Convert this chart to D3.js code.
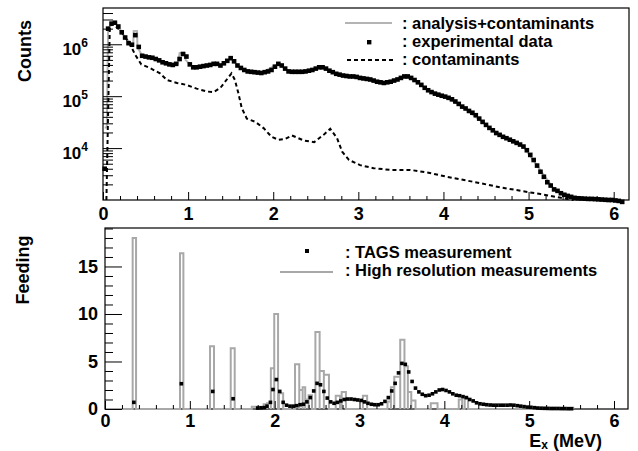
<!DOCTYPE html>
<html>
<head>
<meta charset="utf-8">
<script src="https://cdn.jsdelivr.net/npm/d3@7"></script>
<style>
body { margin: 0; background: #fff; }
text { font-family: "Liberation Sans", Arial, Helvetica, sans-serif; font-weight: bold; fill: #000; }
</style>
</head>
<body>
<svg id="chart" width="638" height="451"></svg>
<script>
// ---------- data ----------
// top panel: bin centres (MeV) and experimental counts
var binE = [0.02,0.06,0.10,0.14,0.18,0.22,0.26,0.30,0.34,0.38,
  0.42,0.46,0.50,0.54,0.58,0.62,0.66,0.70,0.74,0.78,
  0.82,0.86,0.90,0.94,0.98,1.02,1.06,1.10,1.14,1.18,
  1.22,1.26,1.30,1.34,1.38,1.42,1.46,1.50,1.54,1.58,
  1.62,1.66,1.70,1.74,1.78,1.82,1.86,1.90,1.94,1.98,
  2.02,2.06,2.10,2.14,2.18,2.22,2.26,2.30,2.34,2.38,
  2.42,2.46,2.50,2.54,2.58,2.62,2.66,2.70,2.74,2.78,
  2.82,2.86,2.90,2.94,2.98,3.02,3.06,3.10,3.14,3.18,
  3.22,3.26,3.30,3.34,3.38,3.42,3.46,3.50,3.54,3.58,
  3.62,3.66,3.70,3.74,3.78,3.82,3.86,3.90,3.94,3.98,
  4.02,4.06,4.10,4.14,4.18,4.22,4.26,4.30,4.34,4.38,
  4.42,4.46,4.50,4.54,4.58,4.62,4.66,4.70,4.74,4.78,
  4.82,4.86,4.90,4.94,4.98,5.02,5.06,5.10,5.14,5.18,
  5.22,5.26,5.30,5.34,5.38,5.42,5.46,5.50,5.54,5.58,
  5.62,5.66,5.70,5.74,5.78,5.82,5.86,5.90,5.94,5.98,
  6.02,6.06,6.10];
var expCounts = [4.0e3,2.0e6,2.5e6,2.6e6,2.2e6,1.7e6,1.35e6,1.05e6,9.8e5,1.5e6,
  8.9e5,6.0e5,5.8e5,5.6e5,5.5e5,5.2e5,4.9e5,4.5e5,4.3e5,4.1e5,
  4.0e5,4.2e5,5.2e5,6.5e5,5.8e5,4.1e5,3.6e5,3.6e5,3.7e5,3.8e5,
  3.9e5,4.0e5,4.2e5,4.2e5,3.9e5,4.3e5,4.8e5,5.4e5,4.7e5,3.9e5,
  3.5e5,3.2e5,3.0e5,2.95e5,2.9e5,2.85e5,2.8e5,2.9e5,3.0e5,3.2e5,
  3.7e5,4.2e5,3.9e5,3.4e5,3.0e5,2.95e5,2.95e5,2.95e5,2.95e5,3.0e5,
  3.1e5,3.2e5,3.4e5,3.6e5,3.6e5,3.4e5,3.1e5,2.9e5,2.7e5,2.6e5,
  2.5e5,2.45e5,2.4e5,2.4e5,2.35e5,2.25e5,2.2e5,2.15e5,2.1e5,2.0e5,
  1.9e5,1.85e5,1.8e5,1.85e5,1.9e5,2.0e5,2.1e5,2.25e5,2.4e5,2.4e5,
  2.25e5,2.05e5,1.85e5,1.65e5,1.45e5,1.3e5,1.2e5,1.12e5,1.07e5,1.02e5,
  9.8e4,9.3e4,8.7e4,7.9e4,7.1e4,6.3e4,5.8e4,5.2e4,4.8e4,4.3e4,
  3.7e4,3.2e4,2.8e4,2.45e4,2.2e4,1.95e4,1.8e4,1.65e4,1.55e4,1.45e4,
  1.35e4,1.26e4,1.17e4,1.07e4,9.1e3,7.4e3,5.9e3,4.6e3,3.5e3,2.8e3,
  2.2e3,1.9e3,1.6e3,1.5e3,1.35e3,1.26e3,1.2e3,1.15e3,1.1e3,1.08e3,
  1.07e3,1.06e3,1.05e3,1.05e3,1.04e3,1.03e3,1.02e3,1.01e3,1.0e3,1.0e3,
  980,960,920];

// analysis+contaminants (grey line)
var fitE = [0.02,0.045,0.06,0.10,0.14,0.18,0.26,0.34,0.355,0.36,0.40,0.405,0.46,0.62,0.74,0.82,0.86,0.88,0.90,
  0.96,0.97,1.02,1.06,1.22,1.34,1.38,1.50,1.58,1.66,1.86,2.06,2.18,2.38,2.56,2.70,2.82,3.30,3.56,
  3.70,3.82,4.02,4.22,4.50,4.66,4.94,5.10,5.30,5.50,6.10];
var fitCounts = [2.5e4,2.5e4,2.0e6,2.5e6,2.6e6,2.2e6,1.35e6,9.8e5,9.8e5,1.8e6,1.8e6,8.9e5,6.0e5,5.2e5,4.3e5,4.0e5,4.2e5,4.2e5,6.8e5,
  6.8e5,5.0e5,4.1e5,3.6e5,3.9e5,4.2e5,3.9e5,5.4e5,3.9e5,3.2e5,2.8e5,4.2e5,3.0e5,3.0e5,3.6e5,2.9e5,2.5e5,1.8e5,2.4e5,
  1.85e5,1.3e5,9.8e4,6.3e4,2.8e4,1.8e4,1.07e4,4.6e3,1.6e3,1.15e3,920];

// contaminants (dashed line)
var contE = [0.04,0.08,0.12,0.22,0.32,0.38,0.45,0.55,0.67,0.75,0.87,0.98,1.10,1.22,1.30,1.38,1.45,1.51,1.55,
  1.59,1.63,1.69,1.79,1.89,1.98,2.06,2.14,2.22,2.36,2.48,2.60,2.67,2.75,2.81,2.89,3.02,3.18,3.38,
  3.61,3.81,4.04,4.20,4.44,4.67,4.91,5.14,5.38,5.53];
var contCounts = [1.0e3,2.2e6,2.5e6,1.7e6,9.8e5,6.2e5,4.1e5,3.5e5,2.75e5,2.05e5,1.8e5,1.65e5,1.4e5,1.23e5,1.2e5,1.45e5,2.05e5,2.75e5,2.05e5,
  1.15e5,5.9e4,3.7e4,3.2e4,2.4e4,1.65e4,1.45e4,1.5e4,1.75e4,1.4e4,1.3e4,1.85e4,2.35e4,1.55e4,8.5e3,5.9e3,4.7e3,4.1e3,3.8e3,
  3.8e3,3.4e3,2.8e3,2.5e3,2.1e3,1.75e3,1.5e3,1.3e3,1.1e3,1.0e3];

// bottom panel: high resolution feeding histogram (bin low edge, high edge, value)
var hrLo =   [0.326,0.884,1.238,1.482,1.73,1.87,1.91,1.955,1.995,2.05,2.24,2.29,2.33,2.36,2.40,2.48,2.53,2.58,2.72,2.79,3.04,3.33,3.37,3.41,3.48,3.53,3.57,3.61,3.84,4.17,4.24,5.09];
var hrHi =   [0.366,0.924,1.285,1.529,1.87,1.91,1.955,1.995,2.04,2.10,2.29,2.33,2.36,2.40,2.44,2.53,2.58,2.64,2.77,2.84,3.09,3.37,3.41,3.48,3.53,3.57,3.61,3.66,3.92,4.21,4.28,5.52];
var hrFeed = [18.0,16.4,6.6,6.4,0.25,0.5,0.6,4.3,10.0,1.65,4.7,2.0,2.3,1.0,1.45,8.1,4.0,3.6,1.4,1.8,1.4,0.8,2.3,3.4,7.3,4.5,1.8,0.9,0.6,1.0,1.1,0.12];

// bottom panel: TAGS feeding
var tagsE = [0.34,0.90,1.27,1.51,1.80,1.84,1.88,1.91,1.95,1.98,
  2.02,2.06,2.10,2.14,2.18,2.22,2.26,2.30,2.34,2.38,
  2.42,2.46,2.50,2.54,2.58,2.62,2.66,2.70,2.74,2.78,
  2.82,2.86,2.90,2.94,2.98,3.02,3.06,3.10,3.14,3.18,
  3.22,3.26,3.30,3.34,3.38,3.42,3.46,3.50,3.54,3.58,
  3.62,3.66,3.70,3.74,3.78,3.82,3.86,3.90,3.94,3.98,
  4.02,4.06,4.10,4.14,4.18,4.22,4.26,4.30,4.34,4.38,
  4.42,4.46,4.50,4.54,4.58,4.62,4.66,4.70,4.74,4.78,
  4.82,4.86,4.90,4.94,4.98,5.02,5.06,5.10,5.14,5.18,
  5.22,5.26,5.30,5.34,5.38,5.42,5.46,5.50];
var tagsFeed = [0.7,2.66,1.85,1.08,0.1,0.12,0.15,0.3,0.7,2.05,
  3.1,1.85,0.7,0.4,0.3,0.3,0.35,0.45,0.5,0.75,
  1.2,1.9,2.7,2.55,1.85,1.15,0.75,0.6,0.7,0.85,
  1.0,1.05,1.05,1.0,0.95,0.9,0.75,0.6,0.5,0.45,
  0.45,0.55,0.8,1.2,1.9,2.7,3.8,4.8,4.7,3.9,
  2.9,2.2,1.8,1.55,1.4,1.45,1.6,1.8,2.0,2.05,
  1.95,1.8,1.6,1.45,1.4,1.3,1.2,1.0,0.85,0.65,
  0.55,0.5,0.45,0.42,0.4,0.4,0.4,0.4,0.4,0.42,
  0.4,0.35,0.3,0.25,0.2,0.18,0.14,0.1,0.08,0.07,
  0.06,0.05,0.05,0.05,0.04,0.04,0.03,0.03];

var xTicks = [0,1,2,3,4,5,6];
var countTicks = [1e4,1e5,1e6];
var feedTicks = [0,5,10,15];

// ---------- scales ----------
var svg = d3.select("#chart");

var xTop = d3.scaleLinear().domain([0, 6.18]).range([103, 629]);
var yTop = d3.scaleLog().domain([1000, 5e6]).range([200, 8]);
var xBot = d3.scaleLinear().domain([0, 6.165]).range([105, 628]);
var yBot = d3.scaleLinear().domain([0, 19.05]).range([409, 228]);

// minor tick positions
var xMinor = d3.range(0, 6.19, 0.2).filter(function(v) { return Math.abs(v - Math.round(v)) > 0.01; });
var countMinor = [];
[1e3, 1e4, 1e5, 1e6].forEach(function(dec) {
  for (var m = 2; m <= 9; m++) { if (m * dec < 5e6) countMinor.push(m * dec); }
});
var feedMinor = d3.range(1, 20).filter(function(v) { return v % 5 != 0; });

function frame(x, y) {
  svg.append("rect")
    .attr("x", x.range()[0]).attr("y", y.range()[1])
    .attr("width", x.range()[1] - x.range()[0])
    .attr("height", y.range()[0] - y.range()[1])
    .attr("fill", "none").attr("stroke", "#000").attr("stroke-width", 1.2);
}

//**********************
// top panel
//**********************
frame(xTop, yTop);

var fitData = fitE.map(function(e, i) { return [e, fitCounts[i]]; });
var contData = contE.map(function(e, i) { return [e, contCounts[i]]; });
var expData = binE.map(function(e, i) { return [e, expCounts[i]]; });

svg.append("path")
  .datum(fitData)
  .attr("fill", "none")
  .attr("stroke", "#b4b4b4")
  .attr("stroke-width", 2)
  .attr("d", d3.line().x(function(d) { return xTop(d[0]); }).y(function(d) { return yTop(d[1]); }));

svg.append("path")
  .datum(contData)
  .attr("fill", "none")
  .attr("stroke", "#000")
  .attr("stroke-width", 2)
  .attr("stroke-dasharray", "4,3")
  .attr("d", d3.line().x(function(d) { return xTop(d[0]); }).y(function(d) { return yTop(d[1]); }));

svg.selectAll(".exp")
  .data(expData)
  .enter().append("rect")
  .attr("class", "exp")
  .attr("x", function(d) { return xTop(d[0]) - 2.3; })
  .attr("y", function(d) { return yTop(d[1]) - 2.3; })
  .attr("width", 4.6).attr("height", 4.6)
  .attr("fill", "#000");

// x axis (top panel)
var gx = svg.append("g").attr("transform", "translate(0," + yTop.range()[0] + ")")
  .call(d3.axisBottom(xTop).tickValues(xTicks).tickSize(-8).tickSizeOuter(0).tickPadding(7).tickFormat(d3.format("d")));
gx.select(".domain").remove();
gx.selectAll("text").style("font-size", "18px").style("font-family", "Liberation Sans, Arial, sans-serif").style("font-weight", "bold");
var gxm = svg.append("g").attr("transform", "translate(0," + yTop.range()[0] + ")")
  .call(d3.axisBottom(xTop).tickValues(xMinor).tickSize(-4).tickSizeOuter(0).tickFormat(""));
gxm.select(".domain").remove();

// y axis (top panel, log)
var gy = svg.append("g").attr("transform", "translate(" + xTop.range()[0] + ",0)")
  .call(d3.axisLeft(yTop).tickValues(countTicks).tickSize(-19).tickSizeOuter(0).tickFormat(""));
gy.select(".domain").remove();
gy.selectAll(".tick").each(function(d) {
  var t = d3.select(this).append("text")
    .attr("x", -15).attr("y", 10.5)
    .attr("text-anchor", "end")
    .style("font-size", "17px");
  t.append("tspan").text("10");
  t.append("tspan").attr("dy", -8).style("font-size", "12px").text(Math.round(Math.log10(d)));
});
var gym = svg.append("g").attr("transform", "translate(" + xTop.range()[0] + ",0)")
  .call(d3.axisLeft(yTop).tickValues(countMinor).tickSize(-10).tickSizeOuter(0).tickFormat(""));
gym.select(".domain").remove();

svg.append("text")
  .attr("transform", "translate(31,51) rotate(-90)")
  .attr("text-anchor", "middle")
  .style("font-size", "18px")
  .text("Counts");

// legend (top panel)
svg.append("line")
  .attr("x1", 345).attr("y1", 23).attr("x2", 392).attr("y2", 23)
  .attr("stroke", "#b4b4b4").attr("stroke-width", 2);
svg.append("rect")
  .attr("x", 367).attr("y", 40).attr("width", 4.4).attr("height", 4.4).attr("fill", "#000");
svg.append("line")
  .attr("x1", 347).attr("y1", 60).attr("x2", 393).attr("y2", 60)
  .attr("stroke", "#000").attr("stroke-width", 2).attr("stroke-dasharray", "4,3");
svg.append("text").attr("x", 402).attr("y", 28.5).style("font-size", "16.5px").text(": analysis+contaminants");
svg.append("text").attr("x", 402).attr("y", 46.5).style("font-size", "16.5px").text(": experimental data");
svg.append("text").attr("x", 402).attr("y", 64.5).style("font-size", "16.5px").text(": contaminants");

//**********************
// bottom panel
//**********************
frame(xBot, yBot);

// step outline of the high resolution feeding
var hrPts = [[0, 0]];
hrLo.forEach(function(lo, i) {
  hrPts.push([lo, 0], [lo, hrFeed[i]], [hrHi[i], hrFeed[i]], [hrHi[i], 0]);
});
svg.append("path")
  .datum(hrPts)
  .attr("fill", "none")
  .attr("stroke", "#a8a8a8")
  .attr("stroke-width", 2)
  .attr("d", d3.line().x(function(d) { return xBot(d[0]); }).y(function(d) { return yBot(d[1]); }));

var tagsData = tagsE.map(function(e, i) { return [e, tagsFeed[i]]; });
svg.selectAll(".tags")
  .data(tagsData)
  .enter().append("rect")
  .attr("class", "tags")
  .attr("x", function(d) { return xBot(d[0]) - 1.8; })
  .attr("y", function(d) { return yBot(d[1]) - 1.8; })
  .attr("width", 3.6).attr("height", 3.6)
  .attr("fill", "#000");

var bx = svg.append("g").attr("transform", "translate(0," + yBot.range()[0] + ")")
  .call(d3.axisBottom(xBot).tickValues(xTicks).tickSize(-8).tickSizeOuter(0).tickPadding(5).tickFormat(d3.format("d")));
bx.select(".domain").remove();
bx.selectAll("text").style("font-size", "18px").style("font-family", "Liberation Sans, Arial, sans-serif").style("font-weight", "bold");
var bxm = svg.append("g").attr("transform", "translate(0," + yBot.range()[0] + ")")
  .call(d3.axisBottom(xBot).tickValues(xMinor).tickSize(-4).tickSizeOuter(0).tickFormat(""));
bxm.select(".domain").remove();

var by = svg.append("g").attr("transform", "translate(" + xBot.range()[0] + ",0)")
  .call(d3.axisLeft(yBot).tickValues(feedTicks).tickSize(-17).tickSizeOuter(0).tickPadding(7).tickFormat(d3.format("d")));
by.select(".domain").remove();
by.selectAll("text").style("font-size", "18px").style("font-family", "Liberation Sans, Arial, sans-serif").style("font-weight", "bold");
var bym = svg.append("g").attr("transform", "translate(" + xBot.range()[0] + ",0)")
  .call(d3.axisLeft(yBot).tickValues(feedMinor).tickSize(-8).tickSizeOuter(0).tickFormat(""));
bym.select(".domain").remove();

svg.append("text")
  .attr("transform", "translate(29,270) rotate(-90)")
  .attr("text-anchor", "middle")
  .style("font-size", "18px")
  .text("Feeding");

var xt = svg.append("text")
  .attr("x", 602).attr("y", 447)
  .attr("text-anchor", "end")
  .style("font-size", "18px");
xt.append("tspan").text("E");
xt.append("tspan").attr("dy", 2).style("font-size", "12px").text("x");
xt.append("tspan").attr("dy", -2).text(" (MeV)");

// legend (bottom panel)
svg.append("rect")
  .attr("x", 305).attr("y", 249).attr("width", 4).attr("height", 4).attr("fill", "#000");
svg.append("line")
  .attr("x1", 280).attr("y1", 272).attr("x2", 333).attr("y2", 272)
  .attr("stroke", "#a8a8a8").attr("stroke-width", 2);
svg.append("text").attr("x", 345).attr("y", 258).style("font-size", "16.5px").text(": TAGS measurement");
svg.append("text").attr("x", 345).attr("y", 275.5).style("font-size", "16.5px").text(": High resolution measurements");
</script>
</body>
</html>
